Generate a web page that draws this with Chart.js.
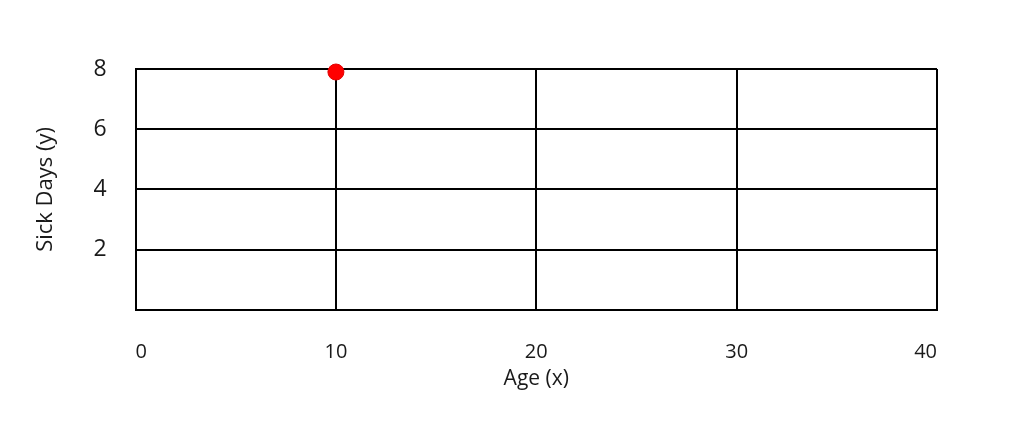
<!DOCTYPE html>
<html>
<head>
<meta charset="utf-8">
<script src="https://cdn.jsdelivr.net/npm/chart.js@4"></script>
<style>
  html, body { margin: 0; padding: 0; background: #fff; }
  #wrap { width: 1032px; height: 435px; }
</style>
</head>
<body>
<div id="wrap"><canvas id="chart"></canvas></div>
<script>
const ages = [10];
const sickDays = [7.9];
const xTicks = [0, 10, 20, 30, 40];
const yTicks = [0, 2, 4, 6, 8];

const font = "'Open Sans', sans-serif";

new Chart(document.getElementById("chart"), {
    type: "scatter",
    data: {
        datasets: [{
            data: ages.map((a, i) => ({ x: a, y: sickDays[i] })),
            backgroundColor: "#ff0000",
            borderColor: "#e00000",
            borderWidth: 1,
            pointRadius: 8,
            clip: false
        }]
    },
    options: {
        responsive: true,
        maintainAspectRatio: false,
        animation: false,
        layout: { padding: { top: 69, right: 95, bottom: 43, left: 33 } },
        plugins: { legend: { display: false }, tooltip: { enabled: false } },
        scales: {
            x: {
                type: "linear",
                min: xTicks[0],
                max: xTicks[xTicks.length - 1],
                afterBuildTicks: s => { s.ticks = xTicks.map(v => ({ value: v })); },
                grid: { color: "#000", lineWidth: 2, drawTicks: false },
                border: { color: "#000", width: 2 },
                ticks: { color: "#1a1a1a", padding: 30, align: "inner", font: { family: font, size: 20 } },
                title: {
                    display: true, text: "Age (x)", color: "#1a1a1a",
                    padding: { top: -27, bottom: 0 }, font: { family: font, size: 21 }
                }
            },
            y: {
                min: yTicks[0],
                max: yTicks[yTicks.length - 1],
                afterBuildTicks: s => { s.ticks = yTicks.map(v => ({ value: v })); },
                grid: { color: "#000", lineWidth: 2, drawTicks: false },
                border: { color: "#000", width: 2 },
                ticks: {
                    color: "#1a1a1a", padding: 29, font: { family: font, size: 23 },
                    callback: v => v === 0 ? "" : v
                },
                title: {
                    display: true, text: "Sick Days (y)", color: "#1a1a1a",
                    padding: { top: 0, bottom: 5 }, font: { family: font, size: 22 }
                }
            }
        }
    }
});
</script>
</body>
</html>
